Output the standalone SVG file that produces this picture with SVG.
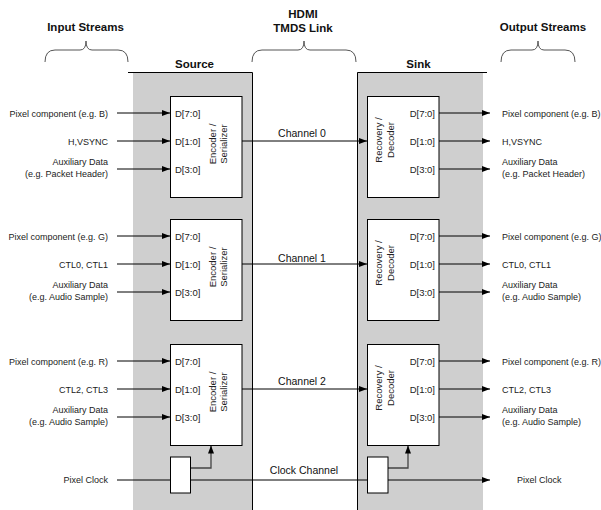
<svg xmlns="http://www.w3.org/2000/svg" width="601" height="510" viewBox="0 0 601 510">
<defs>
<marker id="ah" viewBox="0 0 8 6" refX="8" refY="3" markerWidth="8" markerHeight="6" markerUnits="userSpaceOnUse" orient="auto">
<path d="M0,0 L8,3 L0,6 Z" fill="#000"/>
</marker>
<style>
text{font-family:"Liberation Sans",Arial,sans-serif;fill:#222}
.hd{font-size:11.5px;font-weight:bold;fill:#111;text-anchor:middle}
.lb{font-size:9px}
.r{text-anchor:end}
.d{font-size:9.5px}
.rot{font-size:9.5px;text-anchor:middle}
.ch{font-size:10.5px;text-anchor:middle;fill:#111}
.box{fill:#fff;stroke:#000;stroke-width:1}
.ln{stroke:#000;stroke-width:1;fill:none}
.ar{stroke:#000;stroke-width:1;fill:none;marker-end:url(#ah)}
.el{stroke:#444;stroke-width:1.3;fill:none;marker-end:url(#ah)}
.br{stroke:#555;stroke-width:1;fill:none}
.gray{fill:#cfcfcf}
</style>
</defs>
<rect width="601" height="510" fill="#fff"/>

<g id="source-region">
<rect class="gray" x="133" y="72" width="119" height="438"/>
<path class="ln" d="M128,72.5 H252.5 V510"/>
<text class="hd" x="194.5" y="68">Source</text>
</g>
<g id="sink-region">
<rect class="gray" x="357" y="72" width="126" height="438"/>
<path class="ln" d="M357.5,510 V72.5 H487"/>
<text class="hd" x="418.5" y="68">Sink</text>
</g>

<g id="headers">
<text class="hd" x="85.5" y="31">Input Streams</text>
<text class="hd" x="303" y="18">HDMI</text>
<text class="hd" x="303" y="32">TMDS Link</text>
<text class="hd" x="543" y="31">Output Streams</text>
<path class="br" d="M45,62 Q45,50 55,50 H80 Q86,50 86,41 Q86,50 92,50 H118 Q128,50 128,62"/>
<path class="br" d="M252,62 Q252,50 262,50 H298 Q304,50 304,41 Q304,50 310,50 H346 Q356,50 356,62"/>
<path class="br" d="M501,62 Q501,50 511,50 H532 Q538,50 538,41 Q538,50 544,50 H565 Q575,50 575,62"/>
</g>

<g id="connectors">
<!-- block 0 -->
<line class="ar" x1="117" y1="113" x2="170" y2="113"/>
<line class="ar" x1="117" y1="141" x2="170" y2="141"/>
<line class="ar" x1="117" y1="169" x2="170" y2="169"/>
<line class="ar" x1="242" y1="141" x2="367" y2="141"/>
<line class="ar" x1="439" y1="113" x2="490" y2="113"/>
<line class="ar" x1="439" y1="141" x2="490" y2="141"/>
<line class="ar" x1="439" y1="169" x2="490" y2="169"/>
<!-- block 1 -->
<line class="ar" x1="117" y1="236" x2="170" y2="236"/>
<line class="ar" x1="117" y1="264" x2="170" y2="264"/>
<line class="ar" x1="117" y1="292" x2="170" y2="292"/>
<line class="ar" x1="242" y1="264" x2="367" y2="264"/>
<line class="ar" x1="439" y1="236" x2="490" y2="236"/>
<line class="ar" x1="439" y1="264" x2="490" y2="264"/>
<line class="ar" x1="439" y1="292" x2="490" y2="292"/>
<!-- block 2 -->
<line class="ar" x1="117" y1="361" x2="170" y2="361"/>
<line class="ar" x1="117" y1="389" x2="170" y2="389"/>
<line class="ar" x1="117" y1="417" x2="170" y2="417"/>
<line class="ar" x1="242" y1="389" x2="367" y2="389"/>
<line class="ar" x1="439" y1="361" x2="490" y2="361"/>
<line class="ar" x1="439" y1="389" x2="490" y2="389"/>
<line class="ar" x1="439" y1="417" x2="490" y2="417"/>
<!-- clock -->
<line class="ar" x1="117" y1="480" x2="490" y2="480"/>
<path class="el" d="M190,468 H211 V445.5"/>
<path class="el" d="M388,468 H408 V445.5"/>
<text class="ch" x="302" y="136.5">Channel 0</text>
<text class="ch" x="302" y="261.5">Channel 1</text>
<text class="ch" x="302" y="384.5">Channel 2</text>
<text class="ch" x="304" y="474">Clock Channel</text>
</g>

<g id="inputs-0">
<text class="lb r" x="108" y="116.5">Pixel component (e.g. B)</text>
<text class="lb r" x="108" y="144.5">H,VSYNC</text>
<text class="lb r" x="108" y="165.3">Auxiliary Data</text>
<text class="lb r" x="108" y="177.3">(e.g. Packet Header)</text>
</g>
<g id="inputs-1">
<text class="lb r" x="108" y="239.5">Pixel component (e.g. G)</text>
<text class="lb r" x="108" y="267.5">CTL0, CTL1</text>
<text class="lb r" x="108" y="288.3">Auxiliary Data</text>
<text class="lb r" x="108" y="300.3">(e.g. Audio Sample)</text>
</g>
<g id="inputs-2">
<text class="lb r" x="108" y="364.5">Pixel component (e.g. R)</text>
<text class="lb r" x="108" y="392.5">CTL2, CTL3</text>
<text class="lb r" x="108" y="413.3">Auxiliary Data</text>
<text class="lb r" x="108" y="425.3">(e.g. Audio Sample)</text>
</g>
<g id="outputs-0">
<text class="lb" x="502" y="116.5">Pixel component (e.g. B)</text>
<text class="lb" x="502" y="144.5">H,VSYNC</text>
<text class="lb" x="502" y="165.3">Auxiliary Data</text>
<text class="lb" x="502" y="177.3">(e.g. Packet Header)</text>
</g>
<g id="outputs-1">
<text class="lb" x="502" y="239.5">Pixel component (e.g. G)</text>
<text class="lb" x="502" y="267.5">CTL0, CTL1</text>
<text class="lb" x="502" y="288.3">Auxiliary Data</text>
<text class="lb" x="502" y="300.3">(e.g. Audio Sample)</text>
</g>
<g id="outputs-2">
<text class="lb" x="502" y="364.5">Pixel component (e.g. R)</text>
<text class="lb" x="502" y="392.5">CTL2, CTL3</text>
<text class="lb" x="502" y="413.3">Auxiliary Data</text>
<text class="lb" x="502" y="425.3">(e.g. Audio Sample)</text>
</g>

<g id="encoder-0">
<rect class="box" x="170.5" y="96.5" width="71.5" height="101"/>
<text class="d" x="175" y="116.5">D[7:0]</text>
<text class="d" x="175" y="144.5">D[1:0]</text>
<text class="d" x="175" y="172.5">D[3:0]</text>
<text class="rot" x="215.5" y="144" transform="rotate(-90 215.5 144)">Encoder /</text>
<text class="rot" x="226.5" y="144" transform="rotate(-90 226.5 144)">Serializer</text>
</g>
<g id="encoder-1">
<rect class="box" x="170.5" y="219.5" width="71.5" height="101"/>
<text class="d" x="175" y="239.5">D[7:0]</text>
<text class="d" x="175" y="267.5">D[1:0]</text>
<text class="d" x="175" y="295.5">D[3:0]</text>
<text class="rot" x="215.5" y="267" transform="rotate(-90 215.5 267)">Encoder /</text>
<text class="rot" x="226.5" y="267" transform="rotate(-90 226.5 267)">Serializer</text>
</g>
<g id="encoder-2">
<rect class="box" x="170.5" y="344.5" width="71.5" height="101"/>
<text class="d" x="175" y="364.5">D[7:0]</text>
<text class="d" x="175" y="392.5">D[1:0]</text>
<text class="d" x="175" y="420.5">D[3:0]</text>
<text class="rot" x="215.5" y="392" transform="rotate(-90 215.5 392)">Encoder /</text>
<text class="rot" x="226.5" y="392" transform="rotate(-90 226.5 392)">Serializer</text>
</g>

<g id="decoder-0">
<rect class="box" x="367.5" y="96.5" width="71.5" height="101"/>
<text class="d r" x="435" y="116.5">D[7:0]</text>
<text class="d r" x="435" y="144.5">D[1:0]</text>
<text class="d r" x="435" y="172.5">D[3:0]</text>
<text class="rot" x="382" y="140" transform="rotate(-90 382 140)">Recovery /</text>
<text class="rot" x="393.5" y="140" transform="rotate(-90 393.5 140)">Decoder</text>
</g>
<g id="decoder-1">
<rect class="box" x="367.5" y="219.5" width="71.5" height="101"/>
<text class="d r" x="435" y="239.5">D[7:0]</text>
<text class="d r" x="435" y="267.5">D[1:0]</text>
<text class="d r" x="435" y="295.5">D[3:0]</text>
<text class="rot" x="382" y="263" transform="rotate(-90 382 263)">Recovery /</text>
<text class="rot" x="393.5" y="263" transform="rotate(-90 393.5 263)">Decoder</text>
</g>
<g id="decoder-2">
<rect class="box" x="367.5" y="344.5" width="71.5" height="101"/>
<text class="d r" x="435" y="364.5">D[7:0]</text>
<text class="d r" x="435" y="392.5">D[1:0]</text>
<text class="d r" x="435" y="420.5">D[3:0]</text>
<text class="rot" x="382" y="388" transform="rotate(-90 382 388)">Recovery /</text>
<text class="rot" x="393.5" y="388" transform="rotate(-90 393.5 388)">Decoder</text>
</g>

<g id="clock-source">
<rect class="box" x="170.5" y="457" width="20" height="36"/>
</g>
<g id="clock-sink">
<rect class="box" x="367.5" y="457" width="20.5" height="36"/>
</g>
<g id="clock-labels">
<text class="lb r" x="108" y="483">Pixel Clock</text>
<text class="lb" x="517" y="483">Pixel Clock</text>
</g>
</svg>
